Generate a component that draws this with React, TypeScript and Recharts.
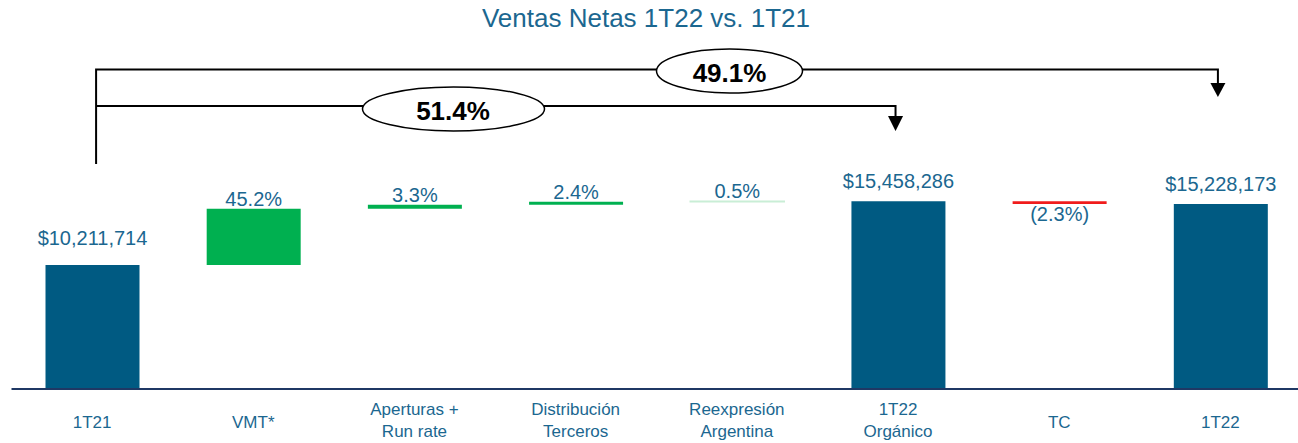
import React from 'react';
import { ComposedChart, Bar, XAxis, YAxis, Cell, LabelList } from 'recharts';

// waterfall steps
const categories = [
  '1T21',
  'VMT*',
  'Aperturas +\nRun rate',
  'Distribución\nTerceros',
  'Reexpresión\nArgentina',
  '1T22\nOrgánico',
  'TC',
  '1T22',
];
const stepValues = [10211714, 4615695, 336987, 245081, 48809, 15458286, -230113, 15228173];
const stepKinds = ['total', 'up', 'up', 'up', 'minor', 'total', 'down', 'total'];
const stepLabels = ['$10,211,714', '45.2%', '3.3%', '2.4%', '0.5%', '$15,458,286', '(2.3%)', '$15,228,173'];

// bracket annotations
const growthOrganic = '51.4%';
const growthTotal = '49.1%';

const W = 1298;
const H = 443;
const CHART_W = 1301;
const FONT = '"Liberation Sans", Arial, sans-serif';
const TEXT = '#1b6790';
const NAVY = '#005a82';

const colors: Record<string, string> = {
  total: NAVY,
  up: '#00b050',
  minor: '#c9eed6',
  down: '#f01c1c',
};

const buildData = () => {
  let running = 0;
  return categories.map((name, i) => {
    const v = stepValues[i];
    const kind = stepKinds[i];
    let base = 0;
    let size = 0;
    if (kind === 'total') {
      base = 0;
      size = v;
      running = v;
    } else if (v >= 0) {
      base = running;
      size = v;
      running += v;
    } else {
      running += v;
      base = running;
      size = -v;
    }
    return { name, base, size, kind, label: stepLabels[i] };
  });
};

const data = buildData();

const margin = { top: 146, right: 0, bottom: 0, left: 11.5 };
const plotWidth = CHART_W - margin.left - margin.right;
const band = plotWidth / categories.length;
const cx = (i: number) => margin.left + band * (i + 0.5);

const AxisTick = (props: any) => {
  const { x, y, payload } = props;
  const lines = String(payload.value).split('\n');
  const first = lines.length > 1 ? 18 : 31;
  return (
    <text x={x} y={y} textAnchor="middle" fill={TEXT} fontSize={17} fontFamily={FONT}>
      {lines.map((l, k) => (
        <tspan key={k} x={x} dy={k === 0 ? first : 22}>
          {l}
        </tspan>
      ))}
    </text>
  );
};

const BarLabel = (props: any) => {
  const { x, y, width, height, value, index } = props;
  const kind = stepKinds[index];
  const mid = x + width / 2;
  let ty = y - 3;
  if (kind === 'total') ty = y - (index === 0 ? 20 : 13);
  if (kind === 'down') ty = y + height + 17;
  return (
    <text x={mid} y={ty} textAnchor="middle" fill={TEXT} fontSize={20} fontFamily={FONT}>
      {value}
    </text>
  );
};

const Brackets = () => {
  const left = cx(0) + 4;
  const a1 = cx(7) - 2.5;
  const a2 = cx(5) - 2.5;
  return (
    <svg width={W} height={H} style={{ position: 'absolute', left: 0, top: 0, pointerEvents: 'none' }}>
      <text x={646} y={27} textAnchor="middle" fill={TEXT} fontSize={26} fontFamily={FONT}>
        Ventas Netas 1T22 vs. 1T21
      </text>
      <path d={`M${left} 164 V69.5 H${a1} V84`} fill="none" stroke="#000" strokeWidth={2} />
      <polygon points={`${a1 - 7.5},83 ${a1 + 7.5},83 ${a1},97`} fill="#000" />
      <path d={`M${left} 106 H${a2} V117`} fill="none" stroke="#000" strokeWidth={2} />
      <polygon points={`${a2 - 7.5},116 ${a2 + 7.5},116 ${a2},131`} fill="#000" />
      <ellipse cx={729.5} cy={71} rx={73} ry={22} fill="#fff" stroke="#000" strokeWidth={1.5} />
      <text x={729.5} y={82} textAnchor="middle" fontSize={26} fontWeight="bold" fontFamily={FONT} fill="#000">
        {growthTotal}
      </text>
      <ellipse cx={453.5} cy={109} rx={91} ry={22} fill="#fff" stroke="#000" strokeWidth={1.5} />
      <text x={453} y={120} textAnchor="middle" fontSize={26} fontWeight="bold" fontFamily={FONT} fill="#000">
        {growthOrganic}
      </text>
    </svg>
  );
};

export default function App() {
  return (
    <div style={{ position: 'absolute', left: 0, top: 0, width: W, height: H, background: '#fff', overflow: 'hidden' }}>
      <ComposedChart width={CHART_W} height={H} data={data} margin={margin} barSize={94}>
        <XAxis
          dataKey="name"
          interval={0}
          height={54}
          tickLine={false}
          axisLine={{ stroke: '#1f3864', strokeWidth: 2 }}
          tick={<AxisTick />}
        />
        <YAxis hide domain={[0, 20000000]} />
        <Bar dataKey="base" stackId="w" fill="transparent" isAnimationActive={false} />
        <Bar dataKey="size" stackId="w" isAnimationActive={false}>
          {data.map((d, i) => (
            <Cell
              key={i}
              fill={colors[d.kind]}
              stroke={d.kind === 'minor' ? colors.minor : 'none'}
              strokeWidth={1.5}
            />
          ))}
          <LabelList dataKey="label" content={<BarLabel />} />
        </Bar>
      </ComposedChart>
      <Brackets />
    </div>
  );
}
